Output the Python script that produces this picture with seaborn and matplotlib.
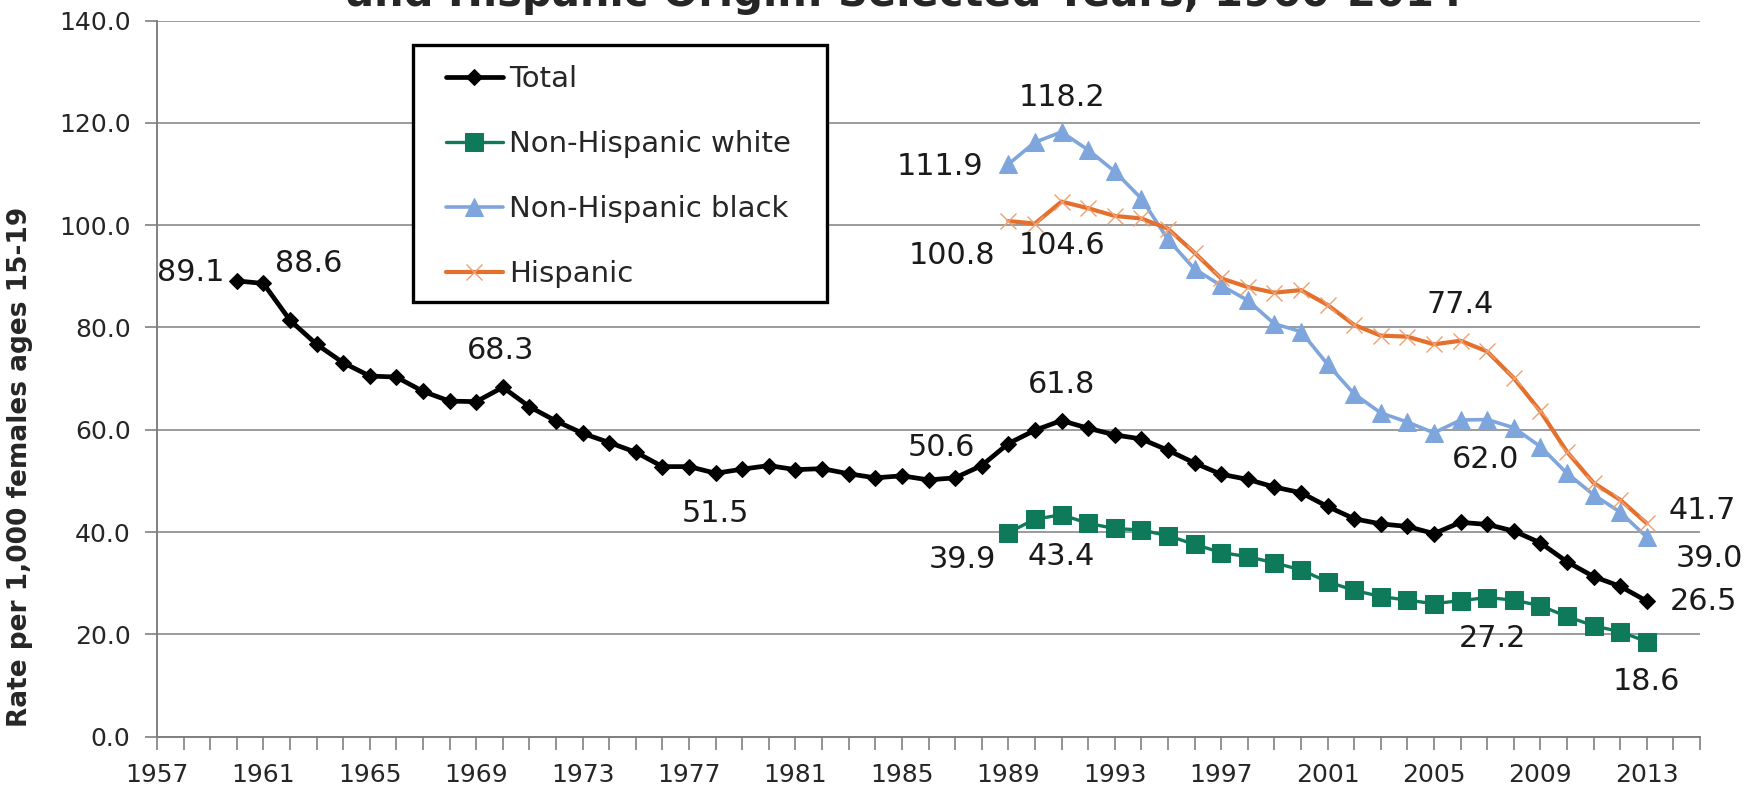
import matplotlib
matplotlib.use("Agg")
import matplotlib.pyplot as plt
import matplotlib.ticker as mticker
from matplotlib.patches import Rectangle
import pandas as pd
import seaborn as sns

# Teen birth rates per 1,000 females ages 15-19
years_total = list(range(1960, 2014))
total = [89.1, 88.6, 81.4, 76.7, 73.1, 70.5, 70.3, 67.5, 65.6, 65.5,
         68.3, 64.5, 61.7, 59.3, 57.5, 55.6, 52.8, 52.8, 51.5, 52.3,
         53.0, 52.2, 52.4, 51.4, 50.6, 51.0, 50.2, 50.6, 53.0, 57.3,
         59.9, 61.8, 60.3, 59.0, 58.2, 56.0, 53.5, 51.3, 50.3, 48.8,
         47.7, 45.0, 42.6, 41.6, 41.1, 39.7, 41.9, 41.5, 40.2, 37.9,
         34.2, 31.3, 29.4, 26.5]

years_race = list(range(1989, 2014))
nh_white = [39.9, 42.5, 43.4, 41.7, 40.7, 40.4, 39.3, 37.6, 36.0, 35.2,
            34.0, 32.6, 30.3, 28.6, 27.4, 26.7, 26.0, 26.6, 27.2, 26.7,
            25.6, 23.5, 21.7, 20.5, 18.6]
nh_black = [111.9, 116.2, 118.2, 114.7, 110.5, 105.2, 97.2, 91.4, 88.2, 85.3,
            80.7, 79.2, 72.8, 67.0, 63.3, 61.5, 59.4, 61.9, 62.0, 60.4,
            56.7, 51.5, 47.3, 43.9, 39.0]
hispanic = [100.8, 100.3, 104.6, 103.3, 101.8, 101.3, 99.3, 94.6, 89.6, 87.9,
            86.8, 87.3, 84.4, 80.5, 78.4, 78.2, 76.7, 77.4, 75.3, 70.1,
            63.6, 55.7, 49.6, 46.3, 41.7]

series_names = ["Total", "Non-Hispanic white", "Non-Hispanic black", "Hispanic"]
x_ticks = list(range(1957, 2014, 4))
y_ticks = list(range(0, 141, 20))
title_text = "and Hispanic Origin: Selected Years, 1960-2014"
ylabel_text = "Rate per 1,000 females ages 15-19"

# years that get a value label, per series
label_years = {
    "Total": [1960, 1961, 1970, 1978, 1987, 1991, 2013],
    "Non-Hispanic white": [1989, 1991, 2007, 2013],
    "Non-Hispanic black": [1989, 1991, 2007, 2013],
    "Hispanic": [1989, 1991, 2006, 2013],
}
# label offsets in pixels from the point
label_offsets = {
    "Total": [(-46, 8), (45, 20), (-2, 37), (0, -40), (-14, 30), (0, 36), (57, 0)],
    "Non-Hispanic white": [(-46, -27), (0, -42), (5, -41), (0, -40)],
    "Non-Hispanic black": [(-68, -2), (0, 35), (-2, -40), (63, -21)],
    "Hispanic": [(-56, -34), (0, -44), (0, 36), (55, 13)],
}

frames = [pd.DataFrame({"year": years_total, "rate": total, "group": "Total"})]
for name, vals in zip(series_names[1:], [nh_white, nh_black, hispanic]):
    frames.append(pd.DataFrame({"year": years_race, "rate": vals, "group": name}))
df = pd.concat(frames, ignore_index=True)

sns.set_style("white")
plt.rcParams["font.family"] = ["DejaVu Sans"]

styles = {
    "Total": dict(color="black", marker="D", markersize=8, linewidth=3.4,
                  markeredgecolor="black"),
    "Non-Hispanic white": dict(color="#0f7a5a", marker="s", markersize=13, linewidth=2.4,
                               markeredgecolor="#0f7a5a"),
    "Non-Hispanic black": dict(color="#7ea6dc", marker="^", markersize=13, linewidth=2.6,
                               markeredgecolor="#7ea6dc"),
    "Hispanic": dict(color="#e4702e", marker="x", markersize=12, linewidth=3.0,
                     markeredgecolor="#f0a070", markeredgewidth=1.0),
}

fig = plt.figure(figsize=(17.6, 7.86), dpi=100)
ax = fig.add_axes([157 / 1760, 49.3 / 786, (1700 - 157) / 1760, 716.2 / 786])

for name in series_names:
    sub = df[df["group"] == name]
    sns.lineplot(data=sub, x="year", y="rate", ax=ax, label=name, **styles[name])

for name in series_names:
    sub = df[df["group"] == name].set_index("year")
    for yr, (dx, dy) in zip(label_years[name], label_offsets[name]):
        v = sub.loc[yr, "rate"]
        ax.annotate(f"{v:.1f}", (yr, v), xytext=(dx, dy), textcoords="offset pixels",
                    ha="center", va="center", fontsize=21.8, color="#1a1a1a")

ax.set_xlim(1957, 2015)
ax.set_ylim(0, 140)
ax.xaxis.set_major_locator(mticker.FixedLocator(x_ticks))
ax.xaxis.set_minor_locator(mticker.MultipleLocator(1))
ax.set_xticklabels([str(t) for t in x_ticks])
ax.set_yticks(y_ticks)
ax.yaxis.set_major_formatter(mticker.FormatStrFormatter("%.1f"))
ax.tick_params(axis="x", which="both", direction="out", length=9, width=1.2,
               color="#808080", labelsize=18, pad=10, bottom=True)
ax.tick_params(axis="y", direction="out", length=9, width=1.2, color="#808080",
               labelsize=18, pad=10, left=True)
ax.grid(axis="y", color="#8a8a8a", linewidth=1.2)
ax.grid(axis="x", visible=False)
for s in ["top", "right"]:
    ax.spines[s].set_visible(False)
for s in ["left", "bottom"]:
    ax.spines[s].set_color("#808080")
    ax.spines[s].set_linewidth(1.4)
ax.set_xlabel("")
ax.set_ylabel("")

# legend with a separate black frame
box = Rectangle((413 / 1760, 1 - 301.7 / 786), 414 / 1760, 256.7 / 786,
                transform=fig.transFigure, facecolor="white", edgecolor="black",
                linewidth=2.4, zorder=5, clip_on=False)
ax.add_patch(box)
leg = ax.legend(loc="upper left", bbox_to_anchor=(446 / 1760, 1 - 65 / 786),
                bbox_transform=fig.transFigure, frameon=False, fontsize=21,
                handlelength=1.95, handletextpad=0.2, labelspacing=1.27, borderpad=0,
                borderaxespad=0)
leg.set_zorder(6)

fig.text(20 / 1760, 1 - 467 / 786, ylabel_text, rotation=90, ha="center", va="center",
         fontsize=19, fontweight="bold")
fig.text(904 / 1760, 1 - 6 / 786, title_text, ha="center", va="baseline",
         fontsize=30, fontweight="bold")

fig.savefig("out.png", dpi=100)
